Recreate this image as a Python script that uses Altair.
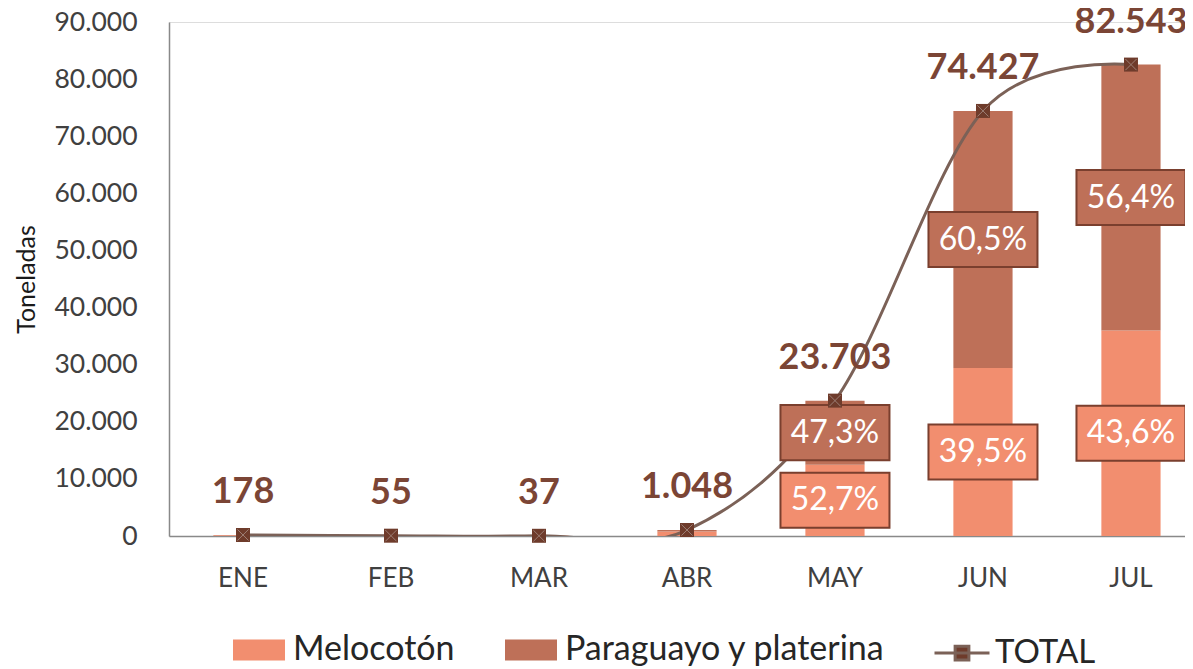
import altair as alt
import pandas as pd

meses = ["ENE", "FEB", "MAR", "ABR", "MAY", "JUN", "JUL"]
total = [178, 55, 37, 1048, 23703, 74427, 82543]
total_txt = ["178", "55", "37", "1.048", "23.703", "74.427", "82.543"]
melocoton = [120, 40, 30, 780, 12491, 29399, 35989]
paraguayo = [58, 15, 7, 268, 11212, 45028, 46554]
pct_meses = ["MAY", "JUN", "JUL"]
pct_mel = ["52,7%", "39,5%", "43,6%"]
pct_par = ["47,3%", "60,5%", "56,4%"]

series = ["Melocotón", "Paraguayo y platerina"]
colors = ["#F28E6F", "#BE7058"]
FONT = "Lato"

rows = []
for i, m in enumerate(meses):
    rows.append({"mes": m, "serie": series[0], "valor": melocoton[i], "orden": 0})
    rows.append({"mes": m, "serie": series[1], "valor": paraguayo[i], "orden": 1})
bars_df = pd.DataFrame(rows)

tot_df = pd.DataFrame({"mes": meses, "total": total, "txt": total_txt, "serie": "TOTAL"})

prow = []
for j, m in enumerate(pct_meses):
    i = meses.index(m)
    prow.append({"mes": m, "serie": series[0], "pos": melocoton[i] / 2, "txt": pct_mel[j]})
    prow.append({"mes": m, "serie": series[1], "pos": melocoton[i] + paraguayo[i] / 2, "txt": pct_par[j]})
pct_df = pd.DataFrame(prow)

xscale = alt.Scale(domain=meses, paddingInner=0.6, paddingOuter=0.2325, align=0.645, round=False)
xenc = alt.X("mes:N", scale=xscale, sort=meses,
             axis=alt.Axis(title=None, labelAngle=0, ticks=False, domainColor="#898989",
                           domainWidth=1.5, labelFont=FONT, labelFontSize=26,
                           labelColor="#404040", labelPadding=29))
yscale = alt.Scale(domain=[0, 90000], nice=False)
yaxis = alt.Axis(title="Toneladas", values=list(range(0, 90001, 10000)), grid=False, ticks=False,
                 domainColor="#898989", domainWidth=1.5, labelFont=FONT, labelFontSize=26.5,
                 labelColor="#404040", labelPadding=32,
                 labelExpr="replace(format(datum.value, ','), ',', '.')",
                 titleFont=FONT, titleFontSize=25, titleFontWeight="normal",
                 titleColor="#1a1a1a", titlePadding=14)

color_scale = alt.Scale(domain=series, range=colors)
rect_path = "M-1,-0.4L1,-0.4L1,0.4L-1,0.4Z"

bars = alt.Chart(bars_df).mark_bar().encode(
    x=xenc,
    y=alt.Y("valor:Q", stack="zero", scale=yscale, axis=yaxis),
    color=alt.Color("serie:N", scale=color_scale,
                    legend=alt.Legend(orient="none", legendX=64, legendY=602, direction="horizontal",
                                      title=None, symbolType=rect_path, symbolSize=2704,
                                      symbolStrokeWidth=0, labelFont=FONT, labelFontSize=34,
                                      labelColor="#262626", labelOffset=8, columnPadding=50,
                                      labelLimit=0, padding=0)),
    order=alt.Order("orden:Q"),
)

line_sym = "M-1,0L1,0M-0.25,-0.25L0.25,-0.25L0.25,0.25L-0.25,0.25Z"
line = alt.Chart(tot_df).mark_line(interpolate="cardinal", strokeWidth=3, clip=True).encode(
    x=alt.X("mes:N", scale=xscale, sort=meses),
    y=alt.Y("total:Q", scale=yscale),
    stroke=alt.Stroke("serie:N", scale=alt.Scale(domain=["TOTAL"], range=["#7B6157"]),
                      legend=alt.Legend(orient="none", legendX=764, legendY=602, title=None,
                                        symbolType=line_sym, symbolSize=3025, symbolStrokeWidth=3,
                                        symbolFillColor="#6E3B2B",
                                        labelFont=FONT, labelFontSize=33, labelColor="#262626",
                                        labelOffset=4, labelLimit=0, padding=0)),
)

box_path = "M-1,-0.505L1,-0.505L1,0.505L-1,0.505Z"
boxes = alt.Chart(pct_df).mark_point(shape=box_path, size=11881, filled=True, opacity=1,
                                     stroke="#7A3F2E", strokeWidth=2).encode(
    x=alt.X("mes:N", scale=xscale, sort=meses),
    y=alt.Y("pos:Q", scale=yscale),
    fill=alt.Fill("serie:N", scale=color_scale, legend=None),
)
box_txt = alt.Chart(pct_df).mark_text(color="white", font=FONT, fontSize=32, baseline="middle").encode(
    x=alt.X("mes:N", scale=xscale, sort=meses),
    y=alt.Y("pos:Q", scale=yscale),
    text="txt:N",
)

markers = alt.Chart(tot_df).mark_point(shape="square", size=196, filled=True, opacity=1,
                                       color="#6E3B2B").encode(
    x=alt.X("mes:N", scale=xscale, sort=meses),
    y=alt.Y("total:Q", scale=yscale),
)
xmarks = alt.Chart(tot_df).mark_point(shape="M-0.8,-0.8L0.8,0.8M0.8,-0.8L-0.8,0.8", size=196,
                                      filled=False, opacity=1, stroke="#9C7E74", strokeWidth=1).encode(
    x=alt.X("mes:N", scale=xscale, sort=meses),
    y=alt.Y("total:Q", scale=yscale),
)
tot_lbl = alt.Chart(tot_df).mark_text(font=FONT, fontSize=36, fontWeight="bold", color="#7B4535",
                                      dy=-43, baseline="middle").encode(
    x=alt.X("mes:N", scale=xscale, sort=meses),
    y=alt.Y("total:Q", scale=yscale),
    text="txt:N",
)

chart = alt.layer(bars, line, boxes, box_txt, markers, xmarks, tot_lbl).properties(
    width=1016, height=514,
    autosize=alt.AutoSizeParams(type="none"),
    padding={"left": 161, "top": 14, "right": 0, "bottom": 133},
).resolve_scale(color="shared").configure_view(stroke=None).configure(background="white")

chart.save("out.html", embed_options={"renderer": "svg", "actions": False})
